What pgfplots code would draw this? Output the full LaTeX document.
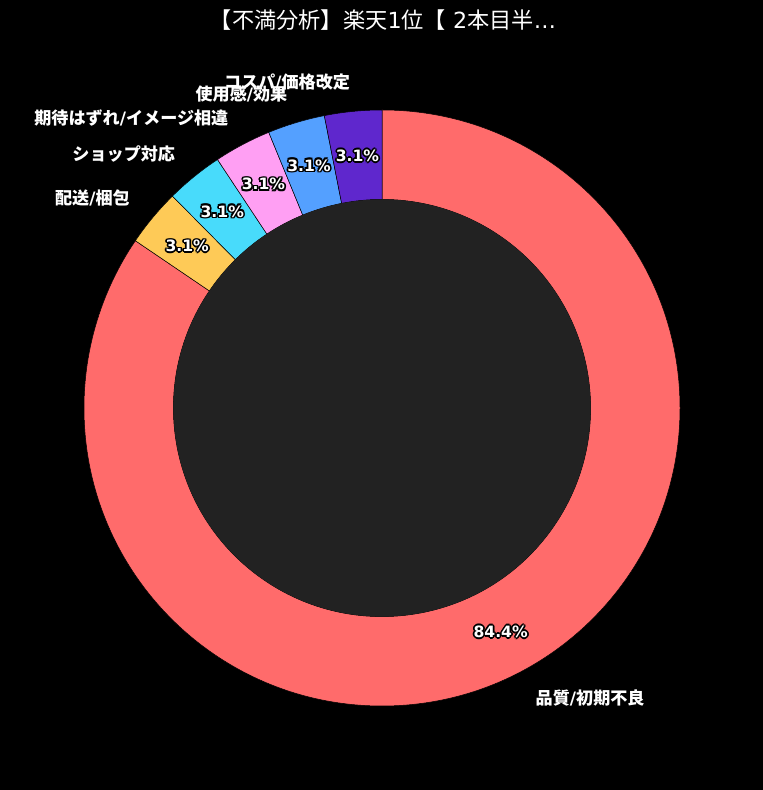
\documentclass[border=0pt]{standalone}
\usepackage{pgfplots}
\usepackage{pgfplotstable}
\pgfplotsset{compat=1.18}
\usepackage{fontspec}
\setmainfont{Noto Sans CJK JP}
\newfontfamily\dv{DejaVu Sans}
\protected\def\sep{{\dv/}}

\definecolor{cRed}{HTML}{FF6B6B}
\definecolor{cYellow}{HTML}{FECA57}
\definecolor{cCyan}{HTML}{48DBFB}
\definecolor{cPink}{HTML}{FF9FF3}
\definecolor{cBlue}{HTML}{54A0FF}
\definecolor{cPurple}{HTML}{5F27CD}
\definecolor{hole}{HTML}{222222}

% slices, clockwise from 12 o'clock
\pgfplotstableread[col sep=comma]{
label,value,color
品質\sep 初期不良,84.4,cRed
配送\sep 梱包,3.1,cYellow
ショップ対応,3.1,cCyan
期待はずれ\sep イメージ相違,3.1,cPink
使用感\sep 効果,3.1,cBlue
コスパ\sep 価格改定,3.1,cPurple
}\slices

\tikzset{
  lbl/.style={text=white,font=\fontsize{17.1}{20}\selectfont\bfseries,inner sep=0pt},
  pct/.style={font=\dv\fontsize{15.6}{18}\selectfont\bfseries,inner sep=0pt},
}
% white text with a black outline
\newcommand\outl[3]{%
  \node[pct,text=black] at (axis cs:#1,#2) [xshift=1.7pt] {#3};
  \node[pct,text=black] at (axis cs:#1,#2) [xshift=-1.7pt] {#3};
  \node[pct,text=black] at (axis cs:#1,#2) [yshift=1.7pt] {#3};
  \node[pct,text=black] at (axis cs:#1,#2) [yshift=-1.7pt] {#3};
  \node[pct,text=black] at (axis cs:#1,#2) [xshift=1.2pt,yshift=1.2pt] {#3};
  \node[pct,text=black] at (axis cs:#1,#2) [xshift=-1.2pt,yshift=1.2pt] {#3};
  \node[pct,text=black] at (axis cs:#1,#2) [xshift=1.2pt,yshift=-1.2pt] {#3};
  \node[pct,text=black] at (axis cs:#1,#2) [xshift=-1.2pt,yshift=-1.2pt] {#3};
  \node[pct,text=white] at (axis cs:#1,#2) {#3};}

\begin{document}
\begin{tikzpicture}
\begin{axis}[x=1pt,y=1pt,xmin=0,xmax=763,ymin=0,ymax=790,
    hide axis,clip=false]
  \fill[black] (axis cs:0,0) rectangle (axis cs:763,790);
  \node[text=white,font=\fontsize{22.2}{26}\selectfont] at (axis cs:383,770)
    {【不満分析】楽天{\dv 1}位【{\dv\ 2}本目半{\dv …}};

  \pgfplotstablegetrowsof{\slices}
  \pgfmathtruncatemacro{\nlast}{\pgfplotsretval-1}
  \def\total{0}
  \pgfplotsforeachungrouped \i in {0,...,\nlast}{%
    \pgfplotstablegetelem{\i}{value}\of\slices
    \pgfmathsetmacro{\total}{\total+\pgfplotsretval}}
  \def\cur{90}
  \pgfplotsforeachungrouped \i in {0,...,\nlast}{%
    \pgfplotstablegetelem{\i}{value}\of\slices \let\val\pgfplotsretval
    \pgfplotstablegetelem{\i}{color}\of\slices \let\col\pgfplotsretval
    \pgfplotstablegetelem{\i}{label}\of\slices \let\lab\pgfplotsretval
    \pgfmathsetmacro{\nxt}{\cur-\val/\total*360}
    \pgfmathsetmacro{\midang}{(\cur+\nxt)/2}
    \pgfmathsetmacro{\ox}{382+298*cos(\cur)}
    \pgfmathsetmacro{\oy}{382+298*sin(\cur)}
    \pgfmathsetmacro{\ix}{382+208.6*cos(\nxt)}
    \pgfmathsetmacro{\iy}{382+208.6*sin(\nxt)}
    \pgfmathsetmacro{\lx}{382+327.8*cos(\midang)}
    \pgfmathsetmacro{\ly}{382+327.8*sin(\midang)}
    \pgfmathsetmacro{\cm}{cos(\midang)}
    \ifdim\cm pt<0pt \def\anc{east}\else\def\anc{west}\fi
    \edef\temp{\noexpand\fill[fill=\col,draw=black,line width=0.5pt]
      (axis cs:\ox,\oy) arc[start angle=\cur,end angle=\nxt,radius=298pt]
      -- (axis cs:\ix,\iy) arc[start angle=\nxt,end angle=\cur,radius=208.6pt]
      -- cycle;
      \noexpand\node[lbl,anchor=\anc] at (axis cs:\lx,\ly) {\lab};}
    \temp
    \let\cur\nxt
  }
  \fill[hole] (axis cs:382,382) circle[radius=208.6pt];

  \def\cur{90}
  \pgfplotsforeachungrouped \i in {0,...,\nlast}{%
    \pgfplotstablegetelem{\i}{value}\of\slices \let\val\pgfplotsretval
    \pgfmathsetmacro{\nxt}{\cur-\val/\total*360}
    \pgfmathsetmacro{\midang}{(\cur+\nxt)/2}
    \pgfmathsetmacro{\px}{382+253.3*cos(\midang)}
    \pgfmathsetmacro{\py}{382+253.3*sin(\midang)}
    \edef\temp{\noexpand\outl{\px}{\py}{\val\noexpand\%}}
    \temp
    \let\cur\nxt
  }
\end{axis}
\end{tikzpicture}
\end{document}
